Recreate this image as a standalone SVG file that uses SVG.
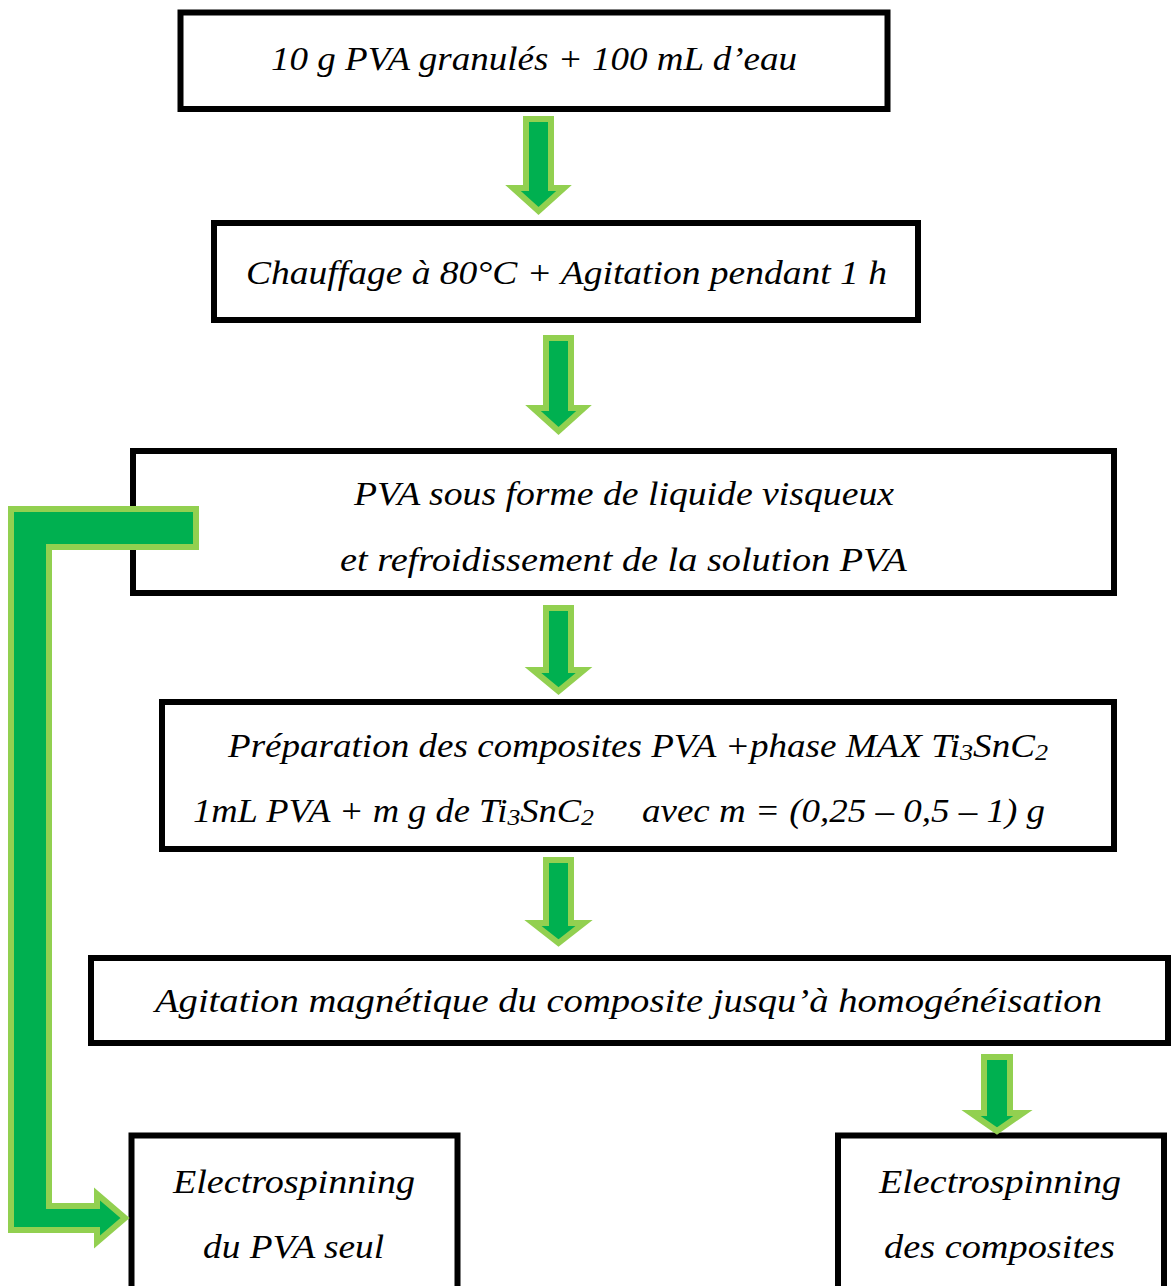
<svg xmlns="http://www.w3.org/2000/svg" width="1173" height="1286" viewBox="0 0 1173 1286">
<style>
.box{fill:#fff;stroke:#000;stroke-width:6}
.t{font-family:"Liberation Serif","Times New Roman",serif;font-style:italic;font-size:34px;fill:#000}
.arr{fill:#00B050;stroke:#92D050;stroke-width:6;stroke-linejoin:miter}
</style>
<rect width="1173" height="1286" fill="#fff"/>
<g id="n1">
<rect class="box" x="180.5" y="12.5" width="707" height="96.5"/>
<text class="t" x="271" y="70" textLength="526" lengthAdjust="spacingAndGlyphs">10 g PVA granulés + 100 mL d’eau</text>
</g>
<g id="n2">
<rect class="box" x="214" y="223" width="704" height="97"/>
<text class="t" x="246" y="284" textLength="641" lengthAdjust="spacingAndGlyphs">Chauffage à 80°C + Agitation pendant 1 h</text>
</g>
<g id="n3">
<rect class="box" x="133" y="451" width="981" height="142"/>
<text class="t" x="354" y="505" textLength="540" lengthAdjust="spacingAndGlyphs">PVA sous forme de liquide visqueux</text>
<text class="t" x="340" y="571" textLength="567" lengthAdjust="spacingAndGlyphs">et refroidissement de la solution PVA</text>
</g>
<g id="n4">
<rect class="box" x="162" y="702" width="952" height="147"/>
<text class="t" x="228" y="757" textLength="820" lengthAdjust="spacingAndGlyphs">Préparation des composites PVA +phase MAX Ti<tspan font-size="24" dy="3">3</tspan><tspan dy="-3">SnC</tspan><tspan font-size="24" dy="3">2</tspan></text>
<text class="t" x="193" y="822" textLength="401" lengthAdjust="spacingAndGlyphs">1mL PVA + m g de Ti<tspan font-size="24" dy="3">3</tspan><tspan dy="-3">SnC</tspan><tspan font-size="24" dy="3">2</tspan></text>
<text class="t" x="642" y="822" textLength="403" lengthAdjust="spacingAndGlyphs">avec m = (0,25 – 0,5 – 1) g</text>
</g>
<g id="n5">
<rect class="box" x="91" y="958" width="1077" height="85"/>
<text class="t" x="155" y="1012" textLength="947" lengthAdjust="spacingAndGlyphs">Agitation magnétique du composite jusqu’à homogénéisation</text>
</g>
<g id="n6">
<rect class="box" x="131.5" y="1135.5" width="326" height="170"/>
<text class="t" x="173" y="1193" textLength="242" lengthAdjust="spacingAndGlyphs">Electrospinning</text>
<text class="t" x="203" y="1258" textLength="181" lengthAdjust="spacingAndGlyphs">du PVA seul</text>
</g>
<g id="n7">
<rect class="box" x="838" y="1135.5" width="326" height="170"/>
<text class="t" x="879" y="1193" textLength="242" lengthAdjust="spacingAndGlyphs">Electrospinning</text>
<text class="t" x="884" y="1258" textLength="231" lengthAdjust="spacingAndGlyphs">des composites</text>
</g>
<g id="connectors">
<path class="arr" d="M526,119 H551 V188 H564 L538.5,211 L513,188 H526 Z"/>
<path class="arr" d="M546,338 H571 V408 H584 L558.5,431 L533,408 H546 Z"/>
<path class="arr" d="M546,608 H571 V670 H584 L558.5,691 L533,670 H546 Z"/>
<path class="arr" d="M546,860 H571 V923 H584 L558.5,943 L533,923 H546 Z"/>
<path class="arr" d="M984,1057 H1010 V1113 H1023 L997,1131 L971,1113 H984 Z"/>
<path class="arr" d="M196,509 V547 H49 V1206 H97 V1194 L125,1218 L97,1242 V1230 H11 V509 Z"/>
</g>
</svg>
